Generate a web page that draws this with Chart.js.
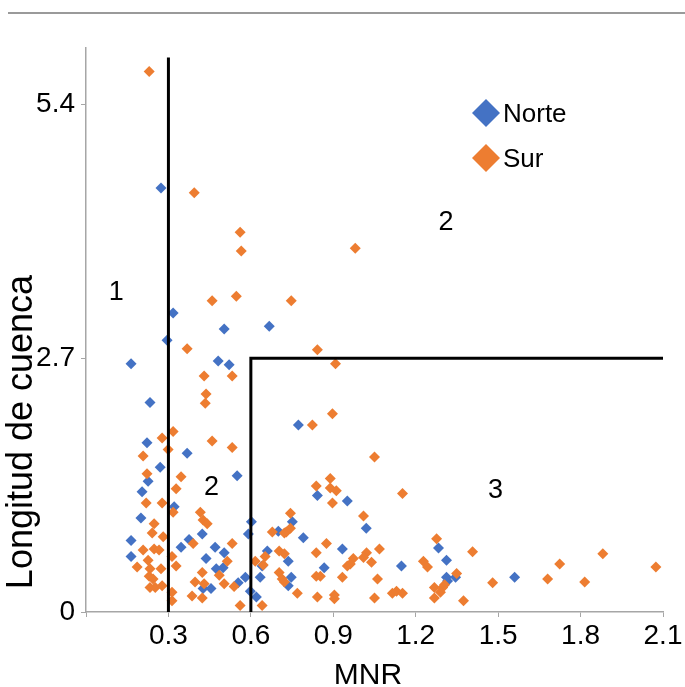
<!DOCTYPE html>
<html>
<head>
<meta charset="utf-8">
<script src="https://cdn.jsdelivr.net/npm/chart.js@4.4.1/dist/chart.umd.min.js"></script>
<style>
  html, body { margin: 0; padding: 0; background: #fff; }
</style>
</head>
<body>
<canvas id="scatterChart" width="685" height="687"></canvas>
<script>
// values
const norteX = [0.273, 0.317, 0.503, 0.667, 0.295, 0.164, 0.481, 0.521, 0.233, 0.773,
  0.222, 0.368, 0.270, 0.226, 0.550, 0.204, 0.321, 0.200, 0.423, 0.591,
  0.602, 0.164, 0.375, 0.346, 0.470, 0.503, 0.164, 0.437, 0.474, 0.499,
  0.580, 0.554, 0.426, 0.455, 0.598, 0.620, 0.842, 0.951, 1.020, 0.751,
  0.700, 0.791, 0.933, 0.660, 0.736, 0.641, 1.148, 0.867, 0.747, 0.634,
  0.736, 1.283, 1.312, 1.312, 1.316, 1.345, 1.560];
const norteY = [4.51, 3.18, 3.01, 3.04, 2.89, 2.64, 2.67, 2.63, 2.23, 1.99,
  1.80, 1.69, 1.54, 1.39, 1.45, 1.28, 1.12, 1.00, 0.83, 0.83,
  0.96, 0.76, 0.77, 0.69, 0.69, 0.63, 0.59, 0.57, 0.46, 0.47,
  0.37, 0.31, 0.25, 0.25, 0.22, 0.16, 1.24, 1.18, 0.89, 0.96,
  0.86, 0.79, 0.67, 0.65, 0.54, 0.49, 0.49, 0.47, 0.37, 0.37,
  0.28, 0.68, 0.55, 0.37, 0.33, 0.37, 0.37];

const surX = [0.230, 0.394, 0.561, 0.565, 0.980, 0.459, 0.547, 0.747, 0.368, 0.430,
  0.532, 0.437, 0.434, 0.317, 0.277, 0.459, 0.532, 0.299, 0.208, 0.222,
  0.346, 0.328, 0.219, 0.277, 0.317, 0.416, 0.426, 0.441, 0.248, 0.241,
  0.281, 0.390, 0.532, 0.208, 0.248, 0.266, 0.313, 0.226, 0.514, 0.186,
  0.328, 0.233, 0.273, 0.485, 0.423, 0.230, 0.244, 0.397, 0.503, 0.430,
  0.233, 0.252, 0.277, 0.539, 0.313, 0.386, 0.423, 0.313, 0.561, 0.842,
  0.908, 0.897, 0.824, 1.050, 0.889, 0.838, 0.889, 0.911, 1.152, 0.897,
  1.010, 0.744, 0.744, 0.729, 0.678, 0.722, 0.875, 0.703, 0.722, 0.838,
  1.068, 1.021, 1.010, 0.973, 0.962, 1.039, 0.951, 0.652, 0.616, 0.645,
  0.838, 0.853, 0.933, 1.061, 0.703, 0.714, 0.722, 0.769, 0.842, 0.904,
  0.904, 1.050, 0.641, 1.115, 1.130, 1.152, 1.228, 1.243, 1.276, 1.349,
  1.268, 1.298, 1.305, 1.290, 1.268, 1.407, 1.881, 1.724, 2.074, 1.680,
  1.815, 1.480, 1.374];
const surY = [5.75, 4.46, 4.04, 3.84, 3.87, 3.31, 3.36, 3.31, 2.80, 2.51,
  2.51, 2.32, 2.22, 1.92, 1.85, 1.82, 1.75, 1.73, 1.66, 1.47,
  1.44, 1.31, 1.16, 1.16, 1.06, 1.06, 0.98, 0.94, 0.94, 0.84,
  0.80, 0.73, 0.73, 0.66, 0.67, 0.66, 0.59, 0.55, 0.54, 0.48,
  0.49, 0.46, 0.46, 0.39, 0.42, 0.38, 0.35, 0.32, 0.30, 0.30,
  0.26, 0.26, 0.28, 0.27, 0.21, 0.17, 0.15, 0.12, 0.07, 2.79,
  2.64, 2.11, 1.99, 1.65, 1.42, 1.34, 1.32, 1.29, 1.26, 1.16,
  1.02, 1.05, 0.89, 0.85, 0.85, 0.84, 0.73, 0.65, 0.62, 0.63,
  0.67, 0.63, 0.58, 0.57, 0.51, 0.53, 0.49, 0.59, 0.54, 0.50,
  0.38, 0.38, 0.37, 0.35, 0.42, 0.35, 0.32, 0.20, 0.16, 0.18,
  0.14, 0.15, 0.07, 0.20, 0.22, 0.20, 0.54, 0.48, 0.78, 0.41,
  0.26, 0.26, 0.29, 0.21, 0.15, 0.64, 0.62, 0.51, 0.48, 0.35,
  0.32, 0.31, 0.12];

const xTicks = [0, 0.3, 0.6, 0.9, 1.2, 1.5, 1.8, 2.1];
const yTicks = [0, 2.7, 5.4];

// zone boundaries
const boundAX = [0.3, 0.3];
const boundAY = [0, 5.9];
const boundBX = [0.6, 0.6, 2.1];
const boundBY = [0, 2.7, 2.7];

const zoneText = ['1', '2', '2', '3'];
const zoneX = [0.11, 1.31, 0.457, 1.49];
const zoneY = [3.40, 4.14, 1.32, 1.29];

const seriesNames = ['Norte', 'Sur'];
const blue = '#4472C4';
const orange = '#ED7D31';
const axisGray = '#A6A6A6';
const fontFamily = '"Liberation Sans", Arial, Helvetica, sans-serif';

const toPoints = (xs, ys) => xs.map((x, i) => ({ x: x, y: ys[i] }));

const decorations = {
  id: 'decorations',
  beforeDraw(chart) {
    const ctx = chart.ctx;
    ctx.save();
    ctx.strokeStyle = '#9a9a9a';
    ctx.lineWidth = 2;
    ctx.beginPath();
    ctx.moveTo(8, 13);
    ctx.lineTo(685, 13);
    ctx.stroke();
    ctx.restore();
  },
  afterDraw(chart) {
    const ctx = chart.ctx;
    const xs = chart.scales.x;
    const ys = chart.scales.y;
    ctx.save();
    ctx.fillStyle = '#000';

    // axis titles
    ctx.font = '30px ' + fontFamily;
    ctx.textAlign = 'center';
    ctx.textBaseline = 'middle';
    ctx.fillText('MNR', 368, 676);

    ctx.save();
    ctx.translate(22, 432);
    ctx.rotate(-Math.PI / 2);
    ctx.font = '36px ' + fontFamily;
    ctx.fillText('Longitud de cuenca', 0, 0);
    ctx.restore();

    // zone numbers
    ctx.font = '27px ' + fontFamily;
    zoneText.forEach((t, i) => {
      ctx.fillText(t, xs.getPixelForValue(zoneX[i]), ys.getPixelForValue(zoneY[i]));
    });

    // legend
    const legendColors = [blue, orange];
    ctx.font = '26px ' + fontFamily;
    ctx.textAlign = 'left';
    seriesNames.forEach((name, i) => {
      const cy = 113 + i * 45;
      ctx.fillStyle = legendColors[i];
      ctx.beginPath();
      ctx.moveTo(486, cy - 14);
      ctx.lineTo(500, cy);
      ctx.lineTo(486, cy + 14);
      ctx.lineTo(472, cy);
      ctx.closePath();
      ctx.fill();
      ctx.fillStyle = '#000';
      ctx.fillText(name, 503, cy + 2);
    });
    ctx.restore();
  }
};

const boundaryStyle = {
  type: 'line',
  showLine: true,
  borderColor: '#000',
  borderWidth: 3,
  pointRadius: 0,
  fill: false,
  tension: 0
};

new Chart(document.getElementById('scatterChart'), {
  type: 'scatter',
  data: {
    datasets: [
      Object.assign({ label: 'limite A', data: toPoints(boundAX, boundAY) }, boundaryStyle),
      Object.assign({ label: 'limite B', data: toPoints(boundBX, boundBY) }, boundaryStyle),
      {
        label: seriesNames[1],
        data: toPoints(surX, surY),
        pointStyle: 'rectRot',
        pointRadius: 5.5,
        borderWidth: 0,
        backgroundColor: orange,
        borderColor: orange
      },
      {
        label: seriesNames[0],
        data: toPoints(norteX, norteY),
        pointStyle: 'rectRot',
        pointRadius: 5.5,
        borderWidth: 0,
        backgroundColor: blue,
        borderColor: blue
      }
    ]
  },
  options: {
    responsive: false,
    animation: false,
    devicePixelRatio: 1,
    layout: { padding: { top: 48, right: 22, left: 0, bottom: 0 } },
    plugins: {
      legend: { display: false },
      tooltip: { enabled: false }
    },
    scales: {
      x: {
        type: 'linear',
        min: 0,
        max: 2.1,
        afterBuildTicks: s => { s.ticks = xTicks.map(v => ({ value: v })); },
        afterFit: s => { s.height = 75; },
        ticks: {
          callback: v => (v === 0 ? '' : v.toFixed(1)),
          font: { family: fontFamily, size: 28 },
          color: '#000',
          padding: 2,
          maxRotation: 0,
          autoSkip: false
        },
        grid: { drawOnChartArea: false, drawTicks: true, tickLength: 5, color: axisGray },
        border: { color: axisGray, width: 1.5 }
      },
      y: {
        type: 'linear',
        min: 0,
        max: 6,
        afterBuildTicks: s => { s.ticks = yTicks.map(v => ({ value: v })); },
        afterFit: s => { s.width = 86; },
        ticks: {
          callback: v => (v === 0 ? '0' : v.toFixed(1)),
          font: { family: fontFamily, size: 28 },
          color: '#000',
          padding: 6,
          autoSkip: false
        },
        grid: { drawOnChartArea: false, drawTicks: true, tickLength: 5, color: axisGray },
        border: { color: axisGray, width: 1.5 }
      }
    }
  },
  plugins: [decorations]
});
</script>
</body>
</html>
